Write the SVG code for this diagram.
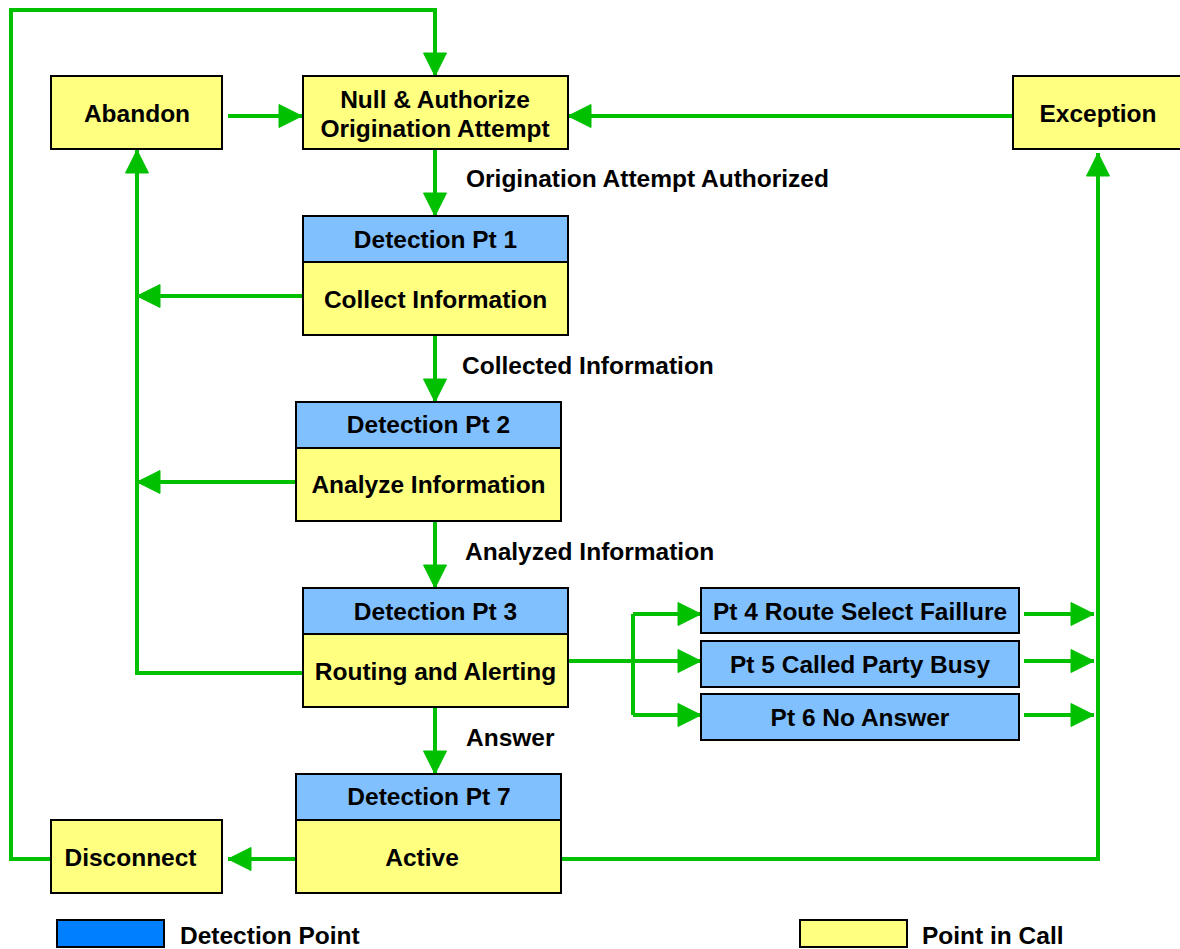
<svg xmlns="http://www.w3.org/2000/svg" width="1180" height="949" viewBox="0 0 1180 949">
  <style>
    .box { stroke: #000; stroke-width: 2; }
    .pic { fill: #FFFF80; }
    .dp { fill: #80C0FF; }
    .lbl { font-family: "Liberation Sans", Arial, sans-serif; font-weight: bold; font-size: 24.5px; fill: #000; }
    .mid { text-anchor: middle; }
    .wire { fill: none; stroke: #00C000; stroke-width: 4; stroke-linejoin: miter; }
    .arr { marker-end: url(#head); }
  </style>
  <defs>
    <marker id="head" markerUnits="userSpaceOnUse" markerWidth="24" markerHeight="24" refX="23" refY="11.5" orient="auto" overflow="visible">
      <path d="M0,0 L23,11.5 L0,23 Z" fill="#00C000" stroke="#00C000" stroke-width="1" stroke-linejoin="round"/>
    </marker>
  </defs>

  <rect width="1180" height="949" fill="#fff"/>

  <!-- connectors -->
  <g id="connectors">
    <!-- disconnect back to null -->
    <path class="wire arr" d="M51,859 H11 V10 H435 V76"/>
    <path class="wire arr" d="M228,116 H302"/>
    <path class="wire arr" d="M1013,116 H568"/>
    <path class="wire arr" d="M435,149 V216"/>
    <path class="wire arr" d="M435,335 V402"/>
    <path class="wire arr" d="M435,521 V588"/>
    <path class="wire arr" d="M435,707 V774"/>
    <!-- abandon collector -->
    <path class="wire arr" d="M303,296 H137"/>
    <path class="wire arr" d="M296,482 H137"/>
    <path class="wire arr" d="M303,673 H137 V150"/>
    <!-- routing fan-out -->
    <path class="wire" d="M568,661 H633"/>
    <path class="wire" d="M633,614 V715"/>
    <path class="wire arr" d="M633,614 H701"/>
    <path class="wire arr" d="M633,661 H701"/>
    <path class="wire arr" d="M633,715 H701"/>
    <path class="wire arr" d="M1024,614 H1094"/>
    <path class="wire arr" d="M1024,661 H1094"/>
    <path class="wire arr" d="M1024,715 H1094"/>
    <!-- active to exception -->
    <path class="wire arr" d="M561,859 H1098 V153"/>
    <path class="wire arr" d="M296,859 H228"/>
  </g>

  <g id="abandon">
    <rect class="box pic" x="51" y="76" width="171" height="73"/>
    <text class="lbl mid" x="137" y="122">Abandon</text>
  </g>

  <g id="null-authorize">
    <rect class="box pic" x="303" y="76" width="265" height="73"/>
    <text class="lbl mid" x="435" y="108">Null &amp; Authorize</text>
    <text class="lbl mid" x="435" y="137">Origination Attempt</text>
  </g>

  <g id="exception">
    <rect class="box pic" x="1013" y="76" width="172" height="73"/>
    <text class="lbl mid" x="1098" y="122">Exception</text>
  </g>

  <text class="lbl" x="466" y="187">Origination Attempt Authorized</text>

  <g id="collect-information">
    <rect class="box dp" x="303" y="216" width="265" height="46"/>
    <rect class="box pic" x="303" y="262" width="265" height="73"/>
    <text class="lbl mid" x="435.5" y="248">Detection Pt 1</text>
    <text class="lbl mid" x="435.5" y="308">Collect Information</text>
  </g>

  <text class="lbl" x="462" y="374">Collected Information</text>

  <g id="analyze-information">
    <rect class="box dp" x="296" y="402" width="265" height="46"/>
    <rect class="box pic" x="296" y="448" width="265" height="73"/>
    <text class="lbl mid" x="428.5" y="433">Detection Pt 2</text>
    <text class="lbl mid" x="428.5" y="493">Analyze Information</text>
  </g>

  <text class="lbl" x="465" y="560">Analyzed Information</text>

  <g id="routing-alerting">
    <rect class="box dp" x="303" y="588" width="265" height="46"/>
    <rect class="box pic" x="303" y="634" width="265" height="73"/>
    <text class="lbl mid" x="435.5" y="620">Detection Pt 3</text>
    <text class="lbl mid" x="435.5" y="680">Routing and Alerting</text>
  </g>

  <g id="pt4">
    <rect class="box dp" x="701" y="588" width="318" height="45"/>
    <text class="lbl mid" x="860" y="620">Pt 4 Route Select Faillure</text>
  </g>
  <g id="pt5">
    <rect class="box dp" x="701" y="641" width="318" height="46"/>
    <text class="lbl mid" x="860" y="672.5">Pt 5 Called Party Busy</text>
  </g>
  <g id="pt6">
    <rect class="box dp" x="701" y="694" width="318" height="46"/>
    <text class="lbl mid" x="860" y="725.5">Pt 6 No Answer</text>
  </g>

  <text class="lbl" x="466" y="746">Answer</text>

  <g id="active">
    <rect class="box dp" x="296" y="774" width="265" height="46"/>
    <rect class="box pic" x="296" y="820" width="265" height="73"/>
    <text class="lbl mid" x="429" y="805">Detection Pt 7</text>
    <text class="lbl mid" x="422" y="866">Active</text>
  </g>

  <g id="disconnect">
    <rect class="box pic" x="51" y="820" width="171" height="73"/>
    <text class="lbl mid" x="130.5" y="866">Disconnect</text>
  </g>

  <!-- legend -->
  <g id="legend">
    <rect class="box" x="57" y="920" width="107" height="27" fill="#0080FF"/>
    <text class="lbl" x="180" y="944">Detection Point</text>
    <rect class="box pic" x="800" y="920" width="107" height="27"/>
    <text class="lbl" x="922" y="944">Point in Call</text>
  </g>
</svg>
